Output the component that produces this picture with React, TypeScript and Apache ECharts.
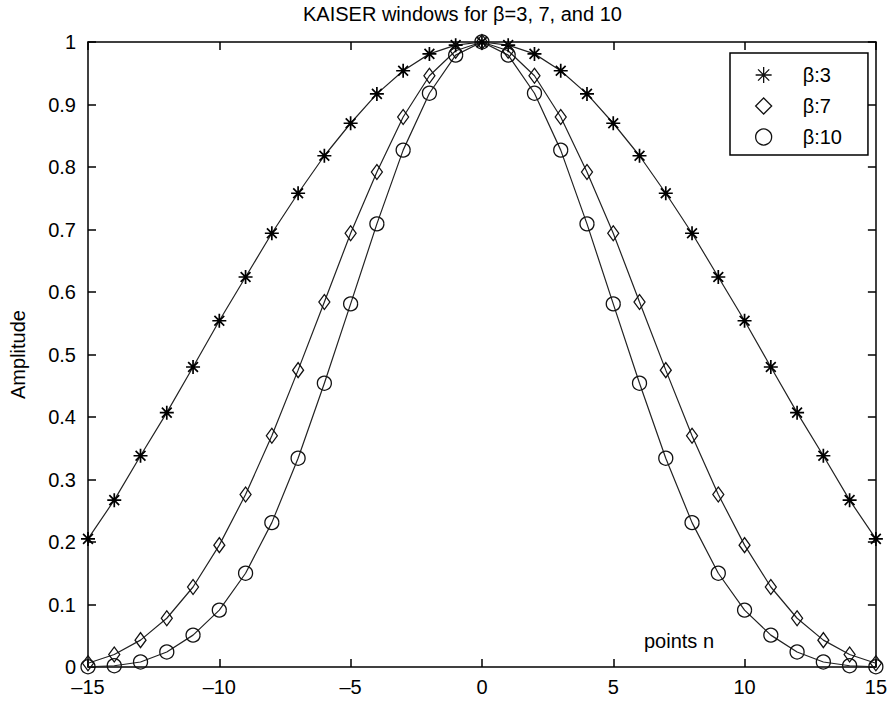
import React, { useEffect, useRef } from "react";
import * as echarts from "echarts";

const N = [-15, -14, -13, -12, -11, -10, -9, -8, -7, -6, -5, -4, -3, -2, -1, 0, 1, 2, 3, 4, 5, 6, 7, 8, 9, 10, 11, 12, 13, 14, 15];

const beta3 = [0.205, 0.267, 0.338, 0.407, 0.480, 0.554, 0.624, 0.694, 0.758, 0.818, 0.870, 0.917, 0.954, 0.981, 0.995, 1.0,
  0.995, 0.981, 0.954, 0.917, 0.870, 0.818, 0.758, 0.694, 0.624, 0.554, 0.480, 0.407, 0.338, 0.267, 0.205];
const beta7 = [0.006, 0.020, 0.043, 0.078, 0.128, 0.195, 0.276, 0.370, 0.475, 0.584, 0.694, 0.792, 0.880, 0.946, 0.986, 1.0,
  0.986, 0.946, 0.880, 0.792, 0.694, 0.584, 0.475, 0.370, 0.276, 0.195, 0.128, 0.078, 0.043, 0.020, 0.006];
const beta10 = [0.0004, 0.002, 0.008, 0.024, 0.051, 0.091, 0.150, 0.231, 0.334, 0.454, 0.581, 0.709, 0.827, 0.918, 0.979, 1.0,
  0.979, 0.918, 0.827, 0.709, 0.581, 0.454, 0.334, 0.231, 0.150, 0.091, 0.051, 0.024, 0.008, 0.002, 0.0004];

const seriesNames = ["β:3", "β:7", "β:10"];
const titleText = "KAISER windows for β=3, 7, and 10";
const yAxisTitle = "Amplitude";
const xAxisNote = "points n";

const FONT = "'Liberation Sans', Arial, Helvetica, sans-serif";
const ASTERISK = "path://M6,0L6,12M0,6L12,6M1.8,1.8L10.2,10.2M1.8,10.2L10.2,1.8";

export default function App() {
  const ref = useRef<HTMLDivElement>(null);
  useEffect(() => {
    if (!ref.current) return;
    const chart = echarts.init(ref.current, undefined, { renderer: "svg" });
    const mk = (vals: number[]) => N.map((n, i) => [n, vals[i]]);
    const markerStyle = { color: "rgba(0,0,0,0)", borderColor: "#111", borderWidth: 1.3 };
    const starStyle = { color: "rgba(0,0,0,0)", borderColor: "#000", borderWidth: 1.7 };
    const lineStyle = { color: "#222", width: 1.2 };
    const axisLine = { show: true, onZero: false, lineStyle: { color: "#000", width: 1.5 } };
    const axisTick = { show: true, inside: true, length: 8, lineStyle: { color: "#000", width: 1.5 } };
    const labelStyle = { color: "#000", fontSize: 20, fontFamily: FONT };
    chart.setOption({
      animation: false,
      backgroundColor: "#fff",
      title: {
        text: titleText,
        left: 303,
        top: 4,
        padding: 0,
        textStyle: { fontSize: 20, fontWeight: "normal", color: "#000", fontFamily: FONT },
      },
      grid: { left: 84, right: 12, top: 42, bottom: 34 },
      legend: {
        orient: "vertical",
        left: 730,
        top: 53,
        padding: [12, 26, 8, 25],
        borderColor: "#000",
        borderWidth: 1.5,
        backgroundColor: "#fff",
        itemWidth: 16,
        itemHeight: 16,
        itemGap: 11,
        itemStyle: { color: "rgba(0,0,0,0)", borderColor: "#111", borderWidth: 1.3 },
        data: [
          { name: seriesNames[0], icon: ASTERISK },
          { name: seriesNames[1], icon: "diamond" },
          { name: seriesNames[2], icon: "circle" },
        ],
        formatter: (name: string) => "{a|" + name + "}",
        textStyle: {
          color: "#000",
          fontSize: 20,
          fontFamily: FONT,
          rich: { a: { fontSize: 20, fontFamily: FONT, color: "#000", padding: [0, 0, 0, 26], lineHeight: 20 } },
        },
      },
      xAxis: [
        {
          type: "value",
          min: -15,
          max: 15,
          interval: 5,
          position: "bottom",
          axisLine,
          axisTick,
          splitLine: { show: false },
          axisLabel: {
            ...labelStyle,
            margin: 10,
            formatter: (v: number) => (v < 0 ? "–" + Math.abs(v) : String(v)),
          },
        },
        {
          type: "value",
          min: -15,
          max: 15,
          interval: 5,
          position: "top",
          axisLine,
          axisTick,
          splitLine: { show: false },
          axisLabel: { show: false },
        },
      ],
      yAxis: [
        {
          type: "value",
          min: 0,
          max: 1,
          interval: 0.1,
          position: "left",
          name: yAxisTitle,
          nameLocation: "middle",
          nameRotate: 90,
          nameGap: 60,
          nameTextStyle: { ...labelStyle },
          axisLine,
          axisTick,
          splitLine: { show: false },
          axisLabel: {
            ...labelStyle,
            margin: 12,
            formatter: (v: number) => String(Math.round(v * 10) / 10),
          },
        },
        {
          type: "value",
          min: 0,
          max: 1,
          interval: 0.1,
          position: "right",
          axisLine,
          axisTick,
          splitLine: { show: false },
          axisLabel: { show: false },
        },
      ],
      graphic: [
        {
          type: "text",
          left: 644,
          top: 631,
          style: { text: xAxisNote, fontSize: 20, fontFamily: FONT, fill: "#000" },
        },
      ],
      series: [
        {
          name: seriesNames[0],
          type: "line",
          data: mk(beta3),
          symbol: ASTERISK,
          symbolSize: 14,
          showAllSymbol: true,
          itemStyle: starStyle,
          lineStyle,
        },
        {
          name: seriesNames[1],
          type: "line",
          data: mk(beta7),
          symbol: "diamond",
          symbolSize: [11, 15],
          showAllSymbol: true,
          itemStyle: markerStyle,
          lineStyle,
        },
        {
          name: seriesNames[2],
          type: "line",
          data: mk(beta10),
          symbol: "circle",
          symbolSize: 14,
          showAllSymbol: true,
          itemStyle: markerStyle,
          lineStyle,
        },
      ],
    });
    return () => chart.dispose();
  }, []);
  return (
    <div
      ref={ref}
      style={{ position: "fixed", left: 0, top: 0, width: 890, height: 701, background: "#fff" }}
    />
  );
}
